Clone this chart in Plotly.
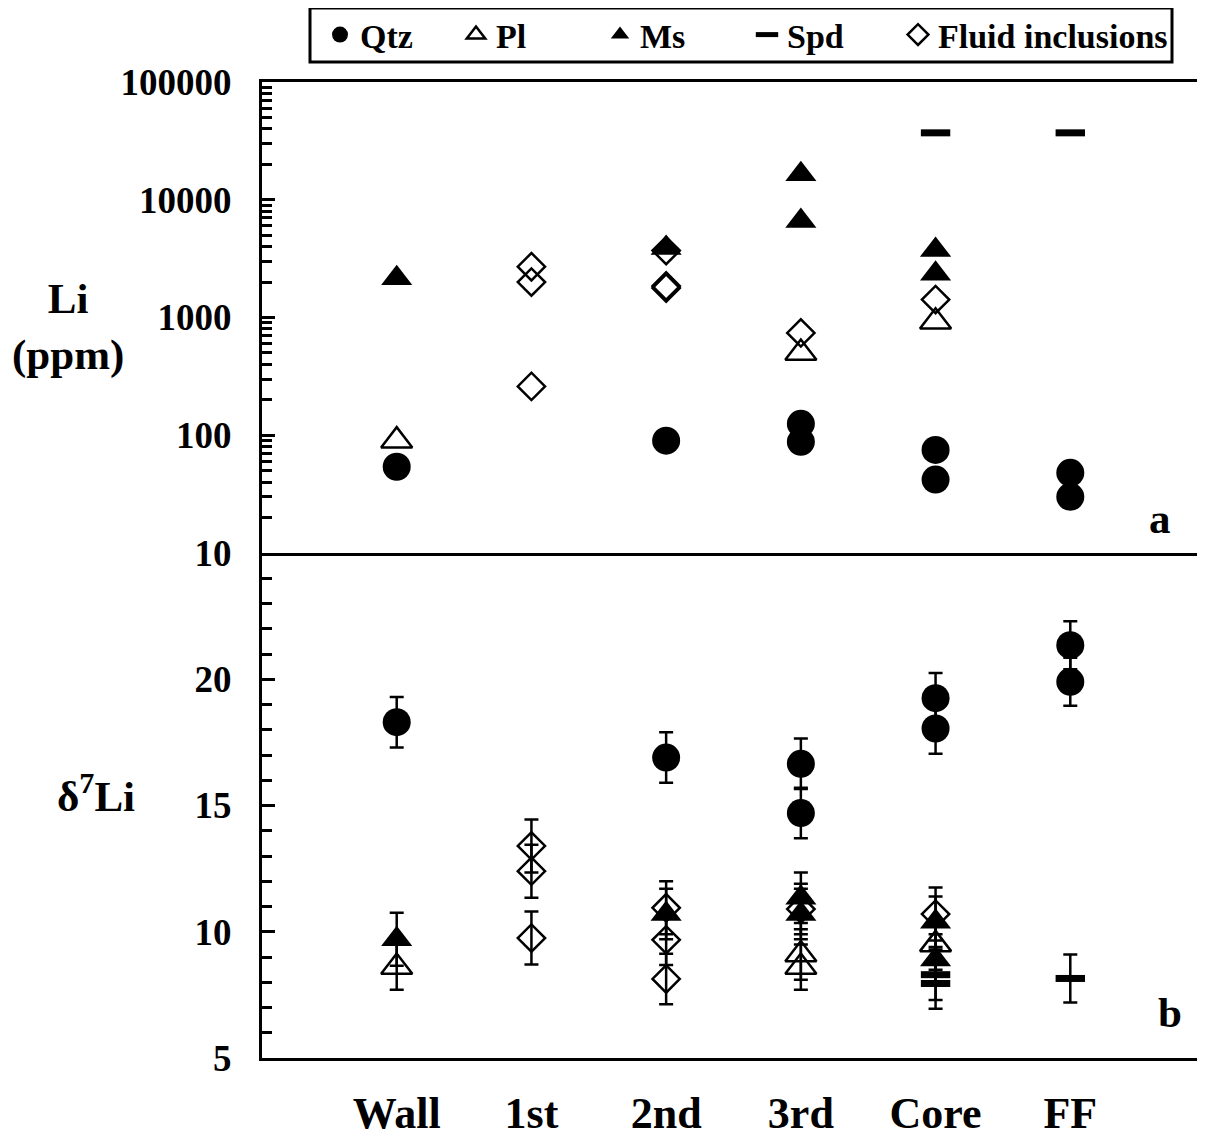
import plotly.graph_objects as go
from plotly.subplots import make_subplots

categories = ["Wall", "1st", "2nd", "3rd", "Core", "FF"]

# ---- Panel a: Li (ppm) ----
qtz_li_cat = ["Wall", "2nd", "3rd", "3rd", "Core", "Core", "FF", "FF"]
qtz_li = [54, 90, 125, 88, 75, 42, 48, 30]
pl_li_cat = ["Wall", "3rd", "Core"]
pl_li = [90, 500, 920]
ms_li_cat = ["Wall", "2nd", "3rd", "3rd", "Core", "Core"]
ms_li = [2150, 3900, 16500, 6600, 3750, 2350]
spd_li_cat = ["Core", "FF"]
spd_li = [37000, 37000]
fi_li_cat = ["1st", "1st", "1st", "2nd", "2nd", "2nd", "3rd", "Core"]
fi_li = [2700, 2000, 260, 3700, 1850, 1780, 740, 1420]

# ---- Panel b: d7Li ----
qtz_d_cat = ["Wall", "2nd", "3rd", "3rd", "Core", "Core", "FF", "FF"]
qtz_d = [18.3, 16.9, 16.65, 14.7, 19.25, 18.05, 21.35, 19.9]
qtz_d_err = [1.0, 1.0, 1.0, 1.0, 1.0, 1.0, 0.95, 0.95]
pl_d_cat = ["Wall", "3rd", "3rd", "Core"]
pl_d = [8.6, 9.1, 8.6, 9.5]
pl_d_err = [0.9, 1.0, 0.9, 1.0]
ms_d_cat = ["Wall", "2nd", "3rd", "3rd", "Core", "Core"]
ms_d = [9.7, 10.7, 11.35, 10.7, 10.4, 8.9]
ms_d_err = [1.05, 1.0, 1.0, 1.0, 1.0, 1.0]
spd_d_cat = ["Core", "Core", "FF"]
spd_d = [8.3, 7.95, 8.15]
spd_d_err = [1.0, 1.0, 0.95]
fi_d_cat = ["1st", "1st", "1st", "2nd", "2nd", "2nd", "3rd", "Core"]
fi_d = [13.4, 12.4, 9.75, 10.95, 9.68, 8.13, 10.9, 10.7]
fi_d_err = [1.05, 1.05, 1.05, 1.05, 1.0, 1.0, 1.0, 1.05]

li_ticks = [10, 100, 1000, 10000, 100000]
d_ticks = [5, 10, 15, 20]

FONT = "Liberation Serif"
OFF = 8  # page body margin
# target screen positions of the plot area
SL, ST, SR, SB = 262, 82, 1205, 1058
W, H = 1205 - OFF, 1137 - OFF
L, T = SL - OFF, ST - OFF
R = W - (SR - OFF)
B = H - (SB - OFF)
PH = SB - ST
PW = SR - SL
split = (SB - 553) / PH


def xs(cats):
    return [categories.index(c) + 1 for c in cats]


def px(x):
    return (x - SL) / PW


def py(y):
    return (SB - y) / PH


fig = make_subplots(rows=2, cols=1, shared_xaxes=False, vertical_spacing=0)

styles = {
    "Qtz": dict(symbol="circle", size=28, color="black", line=dict(width=0)),
    "Pl": dict(symbol="triangle-up-open", size=27, color="black", line=dict(width=2.5, color="black")),
    "Ms": dict(symbol="triangle-up", size=27, color="black", line=dict(width=0)),
    "Spd": dict(symbol="line-ew", size=21, color="black", line=dict(width=7, color="black")),
    "Fluid inclusions": dict(symbol="diamond-open", size=21, color="black", line=dict(width=2.5, color="black")),
}
legend_ids = {"Qtz": "legend", "Pl": "legend2", "Ms": "legend3", "Spd": "legend4",
              "Fluid inclusions": "legend5"}
legend_x = {"Qtz": 320, "Pl": 456, "Ms": 600, "Spd": 747, "Fluid inclusions": 898}

top_sets = [
    ("Qtz", qtz_li_cat, qtz_li),
    ("Pl", pl_li_cat, pl_li),
    ("Ms", ms_li_cat, ms_li),
    ("Spd", spd_li_cat, spd_li),
    ("Fluid inclusions", fi_li_cat, fi_li),
]
for name, cats, vals in top_sets:
    fig.add_trace(go.Scatter(x=xs(cats), y=vals, mode="markers", name=name,
                             marker=styles[name], showlegend=True,
                             legend=legend_ids[name]), row=1, col=1)

bot_sets = [
    ("Qtz", qtz_d_cat, qtz_d, qtz_d_err),
    ("Pl", pl_d_cat, pl_d, pl_d_err),
    ("Ms", ms_d_cat, ms_d, ms_d_err),
    ("Spd", spd_d_cat, spd_d, spd_d_err),
    ("Fluid inclusions", fi_d_cat, fi_d, fi_d_err),
]
for name, cats, vals, errs in bot_sets:
    fig.add_trace(go.Scatter(x=xs(cats), y=vals, mode="markers", name=name,
                             marker=styles[name], showlegend=False,
                             error_y=dict(type="data", array=errs, visible=True,
                                          color="black", thickness=2.5, width=7)),
                  row=2, col=1)

axis_common = dict(showgrid=False, zeroline=False, linecolor="black", linewidth=3)
tick_font = dict(family=FONT, size=37, color="black", weight="bold")

fig.update_xaxes(range=[0, 7], tickmode="array", tickvals=[1, 2, 3, 4, 5, 6],
                 ticktext=categories, ticks="", **axis_common)
fig.update_xaxes(showticklabels=False, showline=True, mirror=True, row=1, col=1)
fig.update_xaxes(showticklabels=True, showline=True, mirror=False, row=2, col=1,
                 tickfont=dict(family=FONT, size=44, color="black", weight="bold"),
                 ticklabelstandoff=14)

fig.update_yaxes(type="log", range=[1, 5], tickmode="array", tickvals=li_ticks,
                 ticktext=[str(v) for v in li_ticks], ticks="inside", ticklen=13,
                 tickwidth=2.5, tickcolor="black", showline=True,
                 minor=dict(dtick="D1", ticks="inside", ticklen=10, tickwidth=2.5,
                            tickcolor="black", showgrid=False),
                 tickfont=tick_font, ticklabelstandoff=20, row=1, col=1, **axis_common)
fig.update_yaxes(range=[5, 25], tickmode="array", tickvals=d_ticks,
                 ticktext=[str(v) for v in d_ticks], ticks="inside", ticklen=13,
                 tickwidth=2.5, tickcolor="black", showline=True,
                 minor=dict(dtick=1, ticks="inside", ticklen=10, tickwidth=2.5,
                            tickcolor="black", showgrid=False),
                 tickfont=tick_font, ticklabelstandoff=20, row=2, col=1, **axis_common)

legend_font = dict(family=FONT, size=34, color="black", weight="bold")
legends = {}
for name, lid in legend_ids.items():
    legends[lid] = dict(orientation="h", x=px(legend_x[name]), y=py(35),
                        xanchor="left", yanchor="middle", borderwidth=0,
                        bgcolor="rgba(0,0,0,0)", font=legend_font, itemwidth=30)

fig.update_layout(
    yaxis=dict(domain=[split, 1]),
    yaxis2=dict(domain=[0, split]),
    width=W, height=H,
    margin=dict(l=L, r=R, t=T, b=B, autoexpand=False),
    paper_bgcolor="white", plot_bgcolor="white",
    font=dict(family=FONT, color="black", weight="bold"),
    **legends,
)

# legend frame
fig.add_shape(type="rect", xref="paper", yref="paper",
              x0=px(310), x1=px(1172), y0=py(62), y1=py(8),
              line=dict(color="black", width=3), fillcolor="rgba(0,0,0,0)", layer="below")

ann_font = dict(family=FONT, size=43, color="black", weight="bold")
fig.add_annotation(x=px(68), y=py(327), xref="paper", yref="paper", text="Li<br>(ppm)",
                   showarrow=False, font=ann_font, xanchor="center", yanchor="middle")
fig.add_annotation(x=px(96), y=py(793), xref="paper", yref="paper", text="δ<sup>7</sup>Li",
                   showarrow=False, font=ann_font, xanchor="center", yanchor="middle")
fig.add_annotation(x=px(1160), y=py(518), xref="paper", yref="paper", text="a",
                   showarrow=False, font=ann_font, xanchor="center", yanchor="middle")
fig.add_annotation(x=px(1170), y=py(1012), xref="paper", yref="paper", text="b",
                   showarrow=False, font=ann_font, xanchor="center", yanchor="middle")

fig.write_html("out.html")
